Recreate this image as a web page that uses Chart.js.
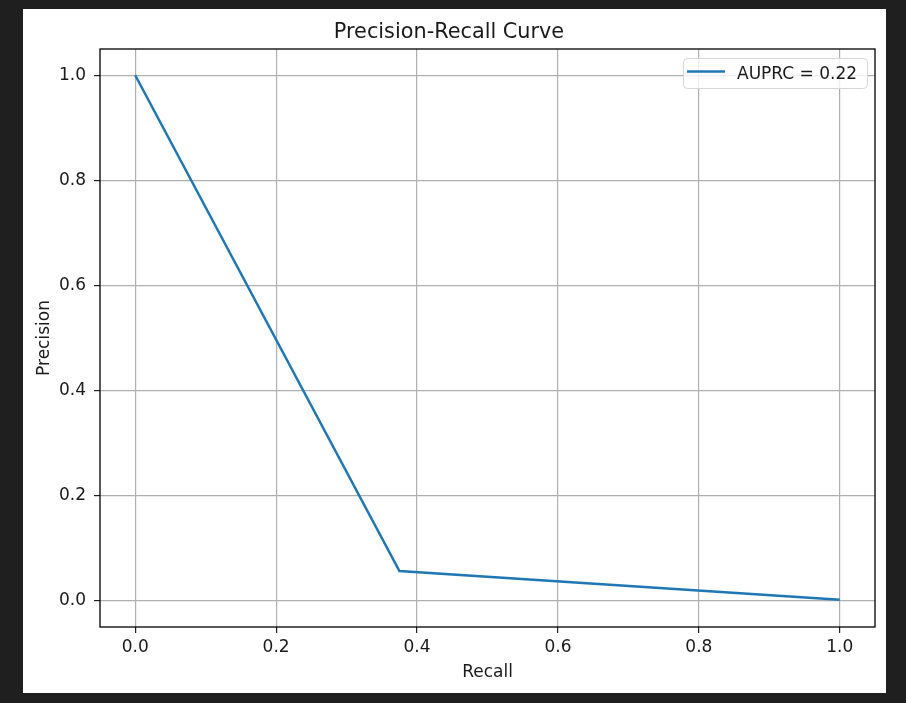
<!DOCTYPE html>
<html>
<head>
<meta charset="utf-8">
<script src="https://cdn.jsdelivr.net/npm/chart.js@4"></script>
<style>
    html, body { margin: 0; padding: 0; background: #1f1f1f; }
    #fig { position: absolute; left: 23px; top: 9px; width: 863px; height: 684px; background: #fff; }
    canvas { display: block; }
</style>
</head>
<body>
<div id="fig"><canvas id="myChart" width="863" height="684"></canvas></div>
<script>
const recall = [0, 0.375, 1.0];
const precision = [1.0, 0.0566, 0.002];
const tickValues = [0, 0.2, 0.4, 0.6, 0.8, 1.0];
const seriesLabel = 'AUPRC = 0.22';

const FONT = 'DejaVu Sans';
const lineColor = '#1f77b4';
const textColor = '#1a1a1a';

const points = recall.map((r, i) => {
    return { x: r, y: precision[i] };
});

// axes box + matplotlib style legend
const framePlugin = {
    id: 'frame',
    afterDatasetsDraw(chart) {
        const ctx = chart.ctx;
        const a = chart.chartArea;
        ctx.save();
        ctx.strokeStyle = '#000';
        ctx.lineWidth = 1.3;
        ctx.strokeRect(a.left, a.top, a.right - a.left, a.bottom - a.top);

        const ds = chart.data.datasets[0];
        const w = 184, h = 30;
        const bx = a.right - 8 - w, by = a.top + 9;
        ctx.beginPath();
        ctx.roundRect(bx + 0.5, by + 0.5, w, h, 4);
        ctx.fillStyle = 'rgba(255,255,255,0.8)';
        ctx.fill();
        ctx.strokeStyle = '#d6d6d6';
        ctx.lineWidth = 1;
        ctx.stroke();

        ctx.beginPath();
        ctx.moveTo(bx + 4, by + 13.5);
        ctx.lineTo(bx + 42, by + 13.5);
        ctx.strokeStyle = ds.borderColor;
        ctx.lineWidth = ds.borderWidth;
        ctx.stroke();

        ctx.fillStyle = textColor;
        ctx.font = '17px "' + FONT + '"';
        ctx.textBaseline = 'alphabetic';
        ctx.fillText(ds.label, bx + 54, by + 21);
        ctx.restore();
    }
};

const ctx = document.getElementById('myChart');
const myChart = new Chart(ctx, { // eslint-disable-line
    type: 'scatter',
    data: {
        datasets: [{
            label: seriesLabel,
            data: points,
            showLine: true,
            borderColor: lineColor,
            backgroundColor: lineColor,
            borderWidth: 2.5,
            pointRadius: 0,
            tension: 0
        }]
    },
    options: {
        responsive: false,
        animation: false,
        devicePixelRatio: 1,
        layout: { padding: { left: 0, right: 11, top: 0, bottom: 0 } },
        plugins: {
            legend: { display: false },
            tooltip: { enabled: false },
            title: {
                display: true,
                text: 'Precision-Recall Curve',
                color: textColor,
                font: { family: FONT, size: 20.8, weight: 'normal', lineHeight: 1 },
                padding: { top: 13, bottom: 6.2 }
            }
        },
        scales: {
            x: {
                type: 'linear',
                min: -0.05,
                max: 1.05,
                afterBuildTicks: (scale) => {
                    scale.ticks = tickValues.map((v) => ({ value: v }));
                },
                afterFit: (scale) => { scale.height = 66; },
                border: { display: false },
                grid: { color: '#b0b0b0', lineWidth: 1.2, tickColor: '#222', tickLength: 6 },
                ticks: {
                    color: textColor,
                    padding: 4,
                    font: { family: FONT, size: 17 },
                    callback: (v) => v.toFixed(1)
                },
                title: {
                    display: true,
                    text: 'Recall',
                    color: textColor,
                    font: { family: FONT, size: 17 },
                    padding: { top: 10, bottom: 10 }
                }
            },
            y: {
                type: 'linear',
                min: -0.05,
                max: 1.05,
                afterBuildTicks: (scale) => {
                    scale.ticks = tickValues.map((v) => ({ value: v }));
                },
                afterFit: (scale) => { scale.width = 77; },
                border: { display: false },
                grid: { color: '#b0b0b0', lineWidth: 1.2, tickColor: '#222', tickLength: 6 },
                ticks: {
                    color: textColor,
                    padding: 8,
                    font: { family: FONT, size: 17 },
                    callback: (v) => v.toFixed(1)
                },
                title: {
                    display: true,
                    text: 'Precision',
                    color: textColor,
                    font: { family: FONT, size: 17 },
                    padding: { top: 11, bottom: 9 }
                }
            }
        }
    },
    plugins: [framePlugin]
});
</script>
</body>
</html>
